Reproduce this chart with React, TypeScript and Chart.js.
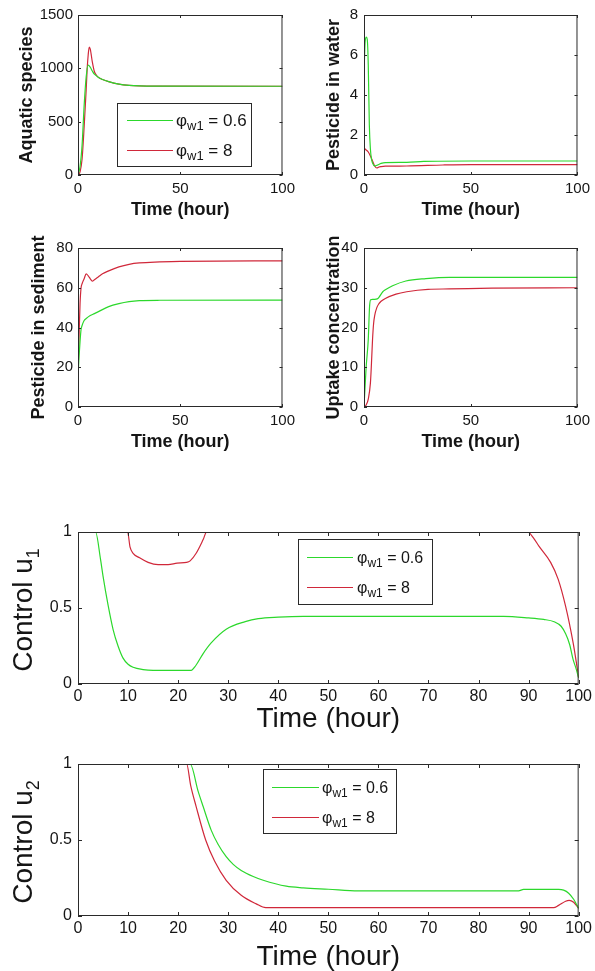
import React, { useEffect, useRef } from 'react';
import { Chart, registerables } from 'chart.js';

Chart.register(...registerables);

// ---------------- data ----------------
const phiValues = ['0.6', '8'];
const seriesLabels = ['\u03c6w1 = 0.6', '\u03c6w1 = 8'];

// Aquatic species
const aqT_g = [0, 1, 2, 3, 4, 5, 6, 7, 8, 9, 10, 12, 15, 20, 25, 30, 40, 100];
const aqV_g = [0, 80, 280, 650, 920, 1030, 1010, 975, 945, 930, 915, 895, 875, 852, 840, 835, 833, 832];
const aqT_r = [0, 1, 2, 3, 4, 4.5, 5, 5.5, 6, 7, 8, 9, 10, 12, 15, 20, 25, 30, 40, 100];
const aqV_r = [0, 30, 150, 450, 800, 1000, 1130, 1200, 1180, 1060, 970, 935, 915, 895, 875, 852, 840, 835, 833, 832];

// Pesticide in water
const wT_g = [0, 0.5, 1, 1.5, 2, 2.5, 3, 3.5, 4, 5, 6, 8, 10, 20, 28, 50, 100];
const wV_g = [5.0, 6.6, 6.9, 6.8, 5.5, 2.5, 1.3, 0.8, 0.6, 0.45, 0.48, 0.58, 0.62, 0.63, 0.68, 0.7, 0.7];
const wT_r = [0, 1, 2, 3, 4, 5, 6, 7, 8, 10, 20, 37, 50, 100];
const wV_r = [1.35, 1.25, 1.15, 0.95, 0.7, 0.45, 0.35, 0.4, 0.42, 0.44, 0.45, 0.5, 0.52, 0.52];

// Pesticide in sediment
const sT_g = [0, 0.5, 1, 1.5, 2, 3, 4, 6, 8, 10, 15, 20, 25, 30, 40, 100];
const sV_g = [15, 25, 33, 39, 41, 43.5, 44.5, 46, 47, 48, 50.5, 52, 53, 53.5, 53.7, 53.8];
const sT_r = [0, 0.5, 1, 1.5, 2, 3, 4, 5, 6, 7, 8, 10, 12, 15, 20, 25, 30, 40, 50, 100];
const sV_r = [15, 35, 52, 60, 62, 64.5, 67, 66, 64.5, 63.3, 64, 65.5, 67, 68.5, 70.5, 71.8, 72.5, 73, 73.3, 73.5];

// Uptake concentration
const uT_g = [0, 1, 2, 2.6, 3.1, 4, 5, 6.2, 7, 8.8, 10, 13.4, 19.6, 29, 40, 100];
const uV_g = [0, 10, 17, 25.2, 27, 27.1, 27.1, 27.2, 27.6, 29, 29.5, 30.5, 31.7, 32.3, 32.6, 32.6];
const uT_r = [0, 1, 2, 3, 3.5, 4, 4.5, 5, 6, 7, 8, 10, 15, 20, 30, 40, 60, 100];
const uV_r = [0, 0.5, 2, 6, 11, 17, 21, 23, 25, 26, 26.6, 27.3, 28.4, 29, 29.6, 29.7, 29.9, 30];

// Control u1
const c1T_g = [0, 3.5, 4.5, 5, 6, 7, 8, 9, 10, 11, 13, 15, 20, 22.6, 23.5, 25, 26.6, 29.6, 33.4, 36, 40, 45, 60, 85, 90, 93, 95.1, 96.5, 97.4, 98.2, 98.9, 99.5, 100];
const c1V_g = [1, 1, 0.82, 0.71, 0.52, 0.36, 0.25, 0.17, 0.13, 0.11, 0.095, 0.09, 0.09, 0.09, 0.12, 0.2, 0.27, 0.36, 0.41, 0.43, 0.44, 0.445, 0.445, 0.445, 0.435, 0.425, 0.41, 0.38, 0.33, 0.26, 0.16, 0.1, 0.04];
const c1T_r = [0, 9.9, 10.4, 11, 12.3, 14, 16, 18, 19.8, 21.7, 22.4, 23.6, 25, 25.7, 89.8, 91, 92.1, 94.4, 95.9, 97.4, 98.9, 99.5, 100];
const c1V_r = [1, 1, 0.9, 0.86, 0.83, 0.8, 0.785, 0.785, 0.795, 0.8, 0.81, 0.86, 0.95, 1, 1, 0.96, 0.905, 0.8, 0.69, 0.51, 0.27, 0.15, 0.04];

// Control u2
const c2T_g = [0, 22.4, 24, 25, 26.6, 28, 29.6, 31, 32.6, 35, 37, 41.6, 45, 50, 56, 88, 89, 96, 97, 98, 99, 100];
const c2V_g = [1, 1, 0.82, 0.72, 0.565, 0.47, 0.39, 0.34, 0.3, 0.26, 0.235, 0.196, 0.185, 0.176, 0.165, 0.165, 0.175, 0.175, 0.17, 0.15, 0.11, 0.05];
const c2T_r = [0, 21.7, 22.5, 23.6, 25.5, 27.3, 29.6, 32.6, 35.6, 37.5, 95, 96, 97.4, 98.1, 99, 100];
const c2V_r = [1, 1, 0.86, 0.72, 0.5, 0.36, 0.235, 0.136, 0.08, 0.055, 0.055, 0.07, 0.097, 0.103, 0.09, 0.05];

// ---------------- style ----------------
const GREEN = '#2cd82c';
const RED = '#d0283a';
const AXIS = '#2a2a2a';
const TEXT = '#151515';
const ARIAL = "Arial, 'Liberation Sans', sans-serif";
const NARROW = "'Liberation Sans Narrow', 'Arial Narrow', 'Liberation Sans', Arial, sans-serif";

const framePlugin = {
  id: 'matFrame',
  afterDatasetsDraw(chart: any, _args: any, o: any) {
    const { ctx, chartArea: a } = chart;
    const xs = chart.scales.x;
    const ys = chart.scales.y;
    ctx.save();
    ctx.strokeStyle = AXIS;
    ctx.lineWidth = 1;
    ctx.strokeRect(a.left + 0.5, a.top + 0.5, a.right - a.left - 1, a.bottom - a.top - 1);
    const len = o.tickLen || 3;
    ctx.beginPath();
    xs.ticks.forEach((t: any) => {
      const px = Math.round(xs.getPixelForValue(t.value)) + 0.5;
      ctx.moveTo(px, a.bottom);
      ctx.lineTo(px, a.bottom - len);
      ctx.moveTo(px, a.top);
      ctx.lineTo(px, a.top + len);
    });
    ys.ticks.forEach((t: any) => {
      const py = Math.round(ys.getPixelForValue(t.value)) + 0.5;
      ctx.moveTo(a.left, py);
      ctx.lineTo(a.left + len, py);
      ctx.moveTo(a.right, py);
      ctx.lineTo(a.right - len, py);
    });
    ctx.stroke();

    const lg = o.legend;
    if (lg) {
      const [x0, y0, x1, y1] = lg.box;
      ctx.fillStyle = '#ffffff';
      ctx.fillRect(x0, y0, x1 - x0, y1 - y0);
      ctx.strokeStyle = AXIS;
      ctx.strokeRect(x0 + 0.5, y0 + 0.5, x1 - x0 - 1, y1 - y0 - 1);
      chart.data.datasets.forEach((ds: any, i: number) => {
        const y = lg.rows[i];
        ctx.strokeStyle = ds.borderColor;
        ctx.lineWidth = 1.2;
        ctx.beginPath();
        ctx.moveTo(lg.line[0], y + 0.5);
        ctx.lineTo(lg.line[1], y + 0.5);
        ctx.stroke();
        ctx.lineWidth = 1;
        ctx.fillStyle = TEXT;
        ctx.textAlign = 'left';
        ctx.textBaseline = 'alphabetic';
        const base = y + lg.size * 0.36;
        let x = lg.textX;
        ctx.font = `${lg.size}px ${NARROW}`;
        ctx.fillText('\u03c6', x, base);
        x += ctx.measureText('\u03c6').width;
        ctx.font = `${lg.subSize}px ${NARROW}`;
        ctx.fillText('w1', x, base + lg.subShift);
        x += ctx.measureText('w1').width;
        ctx.font = `${lg.size}px ${NARROW}`;
        ctx.fillText(` = ${phiValues[i]}`, x, base);
      });
    }

    const yt = o.yTitle;
    if (yt) {
      ctx.fillStyle = TEXT;
      const mainFont = `${yt.size}px ${ARIAL}`;
      const subFont = `${yt.subSize}px ${ARIAL}`;
      ctx.font = mainFont;
      const wMain = ctx.measureText(yt.main).width;
      ctx.font = subFont;
      const wSub = ctx.measureText(yt.sub).width;
      const total = wMain + wSub;
      const cy = (a.top + a.bottom) / 2 + yt.dy;
      ctx.translate(yt.baseX, cy);
      ctx.rotate(-Math.PI / 2);
      ctx.textAlign = 'left';
      ctx.textBaseline = 'alphabetic';
      ctx.font = mainFont;
      ctx.fillText(yt.main, -total / 2, 0);
      ctx.font = subFont;
      ctx.fillText(yt.sub, -total / 2 + wMain, yt.subShift);
    }
    ctx.restore();
  },
};

type Panel = {
  key: string;
  left: number; top: number; w: number; h: number;
  pad: { top: number; right: number; left: number; bottom: number };
  yAxisW: number; xAxisH: number;
  xStep: number; yMax: number; yStep: number;
  tickFont: number; xTickPad: number; yTickPad: number; tickLen: number;
  xTitle: { size: number; bold: boolean; pb: number; lh: number };
  yTitle?: { text: string; pt: number };
  customY?: any;
  legend?: any;
  series: { t: number[]; v: number[] }[];
};

const topX = (pb: number) => ({ size: 18, bold: true, pb, lh: 1.2 });
const botX = (pb: number) => ({ size: 28, bold: false, pb, lh: 1 });

const panels: Panel[] = [
  {
    key: 'aq', left: 0, top: 0, w: 300, h: 225,
    pad: { top: 15, right: 7, left: 0, bottom: 0 }, yAxisW: 78, xAxisH: 50,
    xStep: 50, yMax: 1500, yStep: 500, tickFont: 15, xTickPad: 5, yTickPad: 5, tickLen: 3,
    xTitle: topX(4), yTitle: { text: 'Aquatic species', pt: 16 },
    legend: { box: [117, 103, 252, 167], line: [127, 173], rows: [120, 150], textX: 176, size: 17, subSize: 13, subShift: 4 },
    series: [{ t: aqT_g, v: aqV_g }, { t: aqT_r, v: aqV_r }],
  },
  {
    key: 'water', left: 300, top: 0, w: 295, h: 225,
    pad: { top: 15, right: 15, left: 0, bottom: 0 }, yAxisW: 64, xAxisH: 50,
    xStep: 50, yMax: 8, yStep: 2, tickFont: 15, xTickPad: 5, yTickPad: 6, tickLen: 3,
    xTitle: topX(4), yTitle: { text: 'Pesticide in water', pt: 23 },
    series: [{ t: wT_g, v: wV_g }, { t: wT_r, v: wV_r }],
  },
  {
    key: 'sed', left: 0, top: 230, w: 300, h: 225,
    pad: { top: 18, right: 7, left: 0, bottom: 0 }, yAxisW: 78, xAxisH: 48,
    xStep: 50, yMax: 80, yStep: 20, tickFont: 15, xTickPad: 5, yTickPad: 5, tickLen: 3,
    xTitle: topX(2), yTitle: { text: 'Pesticide in sediment', pt: 28 },
    series: [{ t: sT_g, v: sV_g }, { t: sT_r, v: sV_r }],
  },
  {
    key: 'uptake', left: 300, top: 230, w: 295, h: 225,
    pad: { top: 18, right: 15, left: 0, bottom: 0 }, yAxisW: 64, xAxisH: 48,
    xStep: 50, yMax: 40, yStep: 10, tickFont: 15, xTickPad: 5, yTickPad: 6, tickLen: 3,
    xTitle: topX(2), yTitle: { text: 'Uptake concentration', pt: 23 },
    series: [{ t: uT_g, v: uV_g }, { t: uT_r, v: uV_r }],
  },
  {
    key: 'u1', left: 0, top: 515, w: 595, h: 230,
    pad: { top: 17, right: 13, left: 0, bottom: 0 }, yAxisW: 78, xAxisH: 61,
    xStep: 10, yMax: 1, yStep: 0.5, tickFont: 16, xTickPad: 3, yTickPad: 6, tickLen: 4,
    xTitle: botX(12),
    customY: { main: 'Control u', sub: '1', size: 28, subSize: 18, subShift: 7, baseX: 32, dy: 2 },
    legend: { box: [298, 24, 433, 90], line: [307, 353], rows: [42, 72], textX: 357, size: 16, subSize: 12, subShift: 4 },
    series: [{ t: c1T_g, v: c1V_g }, { t: c1T_r, v: c1V_r }],
  },
  {
    key: 'u2', left: 0, top: 748, w: 595, h: 223,
    pad: { top: 16, right: 13, left: 0, bottom: 0 }, yAxisW: 78, xAxisH: 55,
    xStep: 10, yMax: 1, yStep: 0.5, tickFont: 16, xTickPad: 3, yTickPad: 6, tickLen: 4,
    xTitle: botX(0),
    customY: { main: 'Control u', sub: '2', size: 28, subSize: 18, subShift: 7, baseX: 32, dy: 2 },
    legend: { box: [263, 21, 397, 86], line: [272, 319], rows: [39, 69], textX: 322, size: 16, subSize: 12, subShift: 4 },
    series: [{ t: c2T_g, v: c2V_g }, { t: c2T_r, v: c2V_r }],
  },
];

const colors = [GREEN, RED];

function makeConfig(p: Panel): any {
  const tickFont = { family: NARROW, size: p.tickFont };
  return {
    type: 'line',
    data: {
      datasets: p.series.map((s, i) => ({
        label: seriesLabels[i],
        data: s.t.map((x, j) => ({ x, y: s.v[j] })),
        borderColor: colors[i],
        backgroundColor: colors[i],
        borderWidth: 1.2,
        pointRadius: 0,
        fill: false,
        cubicInterpolationMode: 'monotone',
        clip: 0,
      })),
    },
    options: {
      animation: false,
      responsive: false,
      devicePixelRatio: 1,
      layout: { padding: p.pad },
      plugins: {
        legend: { display: false },
        tooltip: { enabled: false },
        matFrame: { tickLen: p.tickLen, legend: p.legend, yTitle: p.customY },
      },
      scales: {
        x: {
          type: 'linear', min: 0, max: 100,
          afterFit: (s: any) => { s.height = p.xAxisH; },
          grid: { display: false, drawTicks: false },
          border: { display: false },
          ticks: { stepSize: p.xStep, autoSkip: false, maxRotation: 0, padding: p.xTickPad, font: tickFont, color: TEXT, callback: (v: any) => String(v) },
          title: {
            display: true, text: 'Time (hour)', color: TEXT,
            font: { family: ARIAL, size: p.xTitle.size, weight: p.xTitle.bold ? 'bold' : 'normal', lineHeight: p.xTitle.lh },
            padding: { top: 0, bottom: p.xTitle.pb },
          },
        },
        y: {
          type: 'linear', min: 0, max: p.yMax,
          afterFit: (s: any) => { s.width = p.yAxisW; },
          grid: { display: false, drawTicks: false },
          border: { display: false },
          ticks: { stepSize: p.yStep, padding: p.yTickPad, font: tickFont, color: TEXT, callback: (v: any) => String(v) },
          title: p.yTitle
            ? {
                display: true, text: p.yTitle.text, color: TEXT,
                font: { family: ARIAL, size: 18, weight: 'bold', lineHeight: 1.2 },
                padding: { top: p.yTitle.pt, bottom: 0 },
              }
            : { display: false },
        },
      },
    },
    plugins: [framePlugin],
  };
}

function ChartPanel({ p }: { p: Panel }) {
  const ref = useRef<HTMLCanvasElement>(null);
  useEffect(() => {
    const chart = new Chart(ref.current as HTMLCanvasElement, makeConfig(p));
    return () => chart.destroy();
  }, [p]);
  return (
    <canvas
      ref={ref}
      width={p.w}
      height={p.h}
      style={{ position: 'absolute', left: p.left, top: p.top, width: p.w, height: p.h, display: 'block' }}
    />
  );
}

export default function App() {
  return (
    <div style={{ position: 'absolute', left: 0, top: 0, width: 595, height: 971, background: '#ffffff', overflow: 'hidden' }}>
      {panels.map((p) => (
        <ChartPanel key={p.key} p={p} />
      ))}
    </div>
  );
}
